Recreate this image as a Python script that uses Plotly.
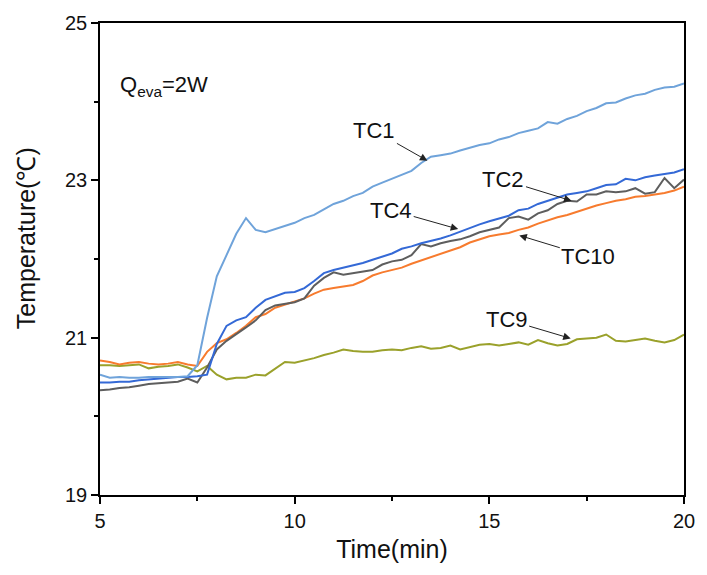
import plotly.graph_objects as go

time_min = [5.0 + 0.25 * i for i in range(61)]

tc1 = [20.53, 20.49, 20.50, 20.49, 20.49, 20.50, 20.50, 20.50, 20.50, 20.51,
       20.65, 21.25, 21.78, 22.05, 22.32, 22.52, 22.37, 22.34, 22.38, 22.42,
       22.46, 22.52, 22.56, 22.63, 22.70, 22.74, 22.80, 22.84, 22.92, 22.97,
       23.02, 23.08, 23.12, 23.22, 23.30, 23.32, 23.34, 23.38, 23.42, 23.45,
       23.47, 23.52, 23.55, 23.60, 23.63, 23.66, 23.74, 23.72, 23.78, 23.82,
       23.88, 23.92, 23.98, 23.99, 24.04, 24.08, 24.10, 24.15, 24.18, 24.19,
       24.23]

tc4 = [20.43, 20.43, 20.44, 20.44, 20.46, 20.47, 20.48, 20.49, 20.50, 20.50,
       20.51, 20.53, 20.92, 21.15, 21.22, 21.26, 21.38, 21.48, 21.53, 21.57,
       21.58, 21.63, 21.72, 21.82, 21.86, 21.89, 21.92, 21.95, 21.99, 22.03,
       22.07, 22.13, 22.16, 22.20, 22.23, 22.26, 22.30, 22.35, 22.40, 22.44,
       22.48, 22.52, 22.55, 22.62, 22.64, 22.70, 22.74, 22.78, 22.82, 22.84,
       22.86, 22.90, 22.94, 22.95, 23.02, 23.00, 23.04, 23.06, 23.08, 23.10,
       23.14]

tc2 = [20.33, 20.34, 20.36, 20.37, 20.39, 20.41, 20.42, 20.43, 20.44, 20.48,
       20.43, 20.62, 20.85, 20.96, 21.04, 21.13, 21.22, 21.35, 21.41, 21.43,
       21.45, 21.50, 21.66, 21.76, 21.83, 21.80, 21.82, 21.84, 21.86, 21.93,
       21.97, 21.99, 22.05, 22.19, 22.16, 22.20, 22.23, 22.25, 22.29, 22.34,
       22.37, 22.40, 22.52, 22.54, 22.50, 22.58, 22.62, 22.70, 22.74, 22.73,
       22.82, 22.82, 22.86, 22.85, 22.86, 22.90, 22.83, 22.85, 23.03, 22.90,
       23.01]

tc10 = [20.71, 20.69, 20.66, 20.68, 20.69, 20.67, 20.66, 20.67, 20.69, 20.66,
        20.64, 20.82, 20.93, 20.98, 21.06, 21.15, 21.26, 21.30, 21.38, 21.42,
        21.46, 21.50, 21.56, 21.61, 21.63, 21.65, 21.67, 21.72, 21.79, 21.83,
        21.86, 21.89, 21.94, 21.98, 22.02, 22.06, 22.10, 22.15, 22.21, 22.25,
        22.29, 22.31, 22.33, 22.37, 22.40, 22.45, 22.49, 22.53, 22.56, 22.60,
        22.64, 22.68, 22.71, 22.74, 22.76, 22.79, 22.80, 22.82, 22.84, 22.87,
        22.92]

tc9 = [20.65, 20.65, 20.64, 20.65, 20.66, 20.61, 20.63, 20.64, 20.66, 20.62,
       20.57, 20.64, 20.53, 20.47, 20.49, 20.49, 20.53, 20.52, 20.60, 20.69,
       20.68, 20.71, 20.74, 20.78, 20.81, 20.85, 20.83, 20.82, 20.82, 20.84,
       20.85, 20.84, 20.87, 20.89, 20.86, 20.87, 20.90, 20.85, 20.88, 20.91,
       20.92, 20.90, 20.92, 20.94, 20.91, 20.97, 20.93, 20.90, 20.92, 20.98,
       20.99, 21.00, 21.04, 20.96, 20.95, 20.97, 20.99, 20.96, 20.94, 20.97,
       21.04]

series_names = ["TC9", "TC10", "TC2", "TC4", "TC1"]
series_values = [tc9, tc10, tc2, tc4, tc1]
series_colors = ["#9AA12B", "#F77B2E", "#5E5E5E", "#3469D6", "#6FA3DA"]

x_ticks = [5, 10, 15, 20]
y_ticks = [19, 21, 23, 25]

# label: arrow head (x, y) in data units, text centre offset from head in px
labels = {
    "TC1": (13.41, 23.25, -53, -30),
    "TC2": (17.11, 22.74, -68, -21),
    "TC4": (14.20, 22.38, -67, -19),
    "TC10": (15.77, 22.30, 69, 21),
    "TC9": (17.09, 20.99, -64, -19),
}

font_family = "Liberation Sans, Arial, sans-serif"

fig = go.Figure()
for name, vals, col in zip(series_names, series_values, series_colors):
    fig.add_trace(go.Scatter(x=time_min, y=vals, mode="lines", name=name,
                             line=dict(color=col, width=2)))

for name, (hx, hy, axo, ayo) in labels.items():
    fig.add_annotation(x=hx, y=hy, xref="x", yref="y", text=name, showarrow=True,
                       ax=axo, ay=ayo, arrowhead=2, arrowsize=1.5, arrowwidth=1,
                       arrowcolor="#222222", standoff=0, startstandoff=0,
                       font=dict(size=22, color="#111111", family=font_family))

fig.add_annotation(x=5.45, y=24.2, xref="x", yref="y", xanchor="left",
                   text="Q<sub>eva</sub>=2W", showarrow=False,
                   font=dict(size=22, color="#111111", family=font_family))

fig.add_annotation(x=-0.155, y=0.545, xref="paper", yref="paper",
                   text="Temperature(℃)", textangle=-90, showarrow=False,
                   font=dict(size=25, color="#111111", family=font_family))

axis_common = dict(showline=True, linecolor="black", linewidth=1.5, mirror=True,
                   ticks="outside", ticklen=7, tickwidth=1.5, tickcolor="black",
                   showgrid=False, zeroline=False,
                   tickfont=dict(size=20, color="#111111", family=font_family))

fig.update_xaxes(range=[5, 20], tickvals=x_ticks, ticktext=[str(v) for v in x_ticks],
                 minor=dict(ticks="outside", ticklen=4, tickwidth=1.5, tickcolor="black",
                            dtick=2.5, tick0=5, showgrid=False),
                 title=dict(text="Time(min)", standoff=10,
                            font=dict(size=25, color="#111111", family=font_family)),
                 **axis_common)
fig.update_yaxes(range=[19, 25], tickvals=y_ticks, ticktext=[str(v) for v in y_ticks],
                 minor=dict(ticks="outside", ticklen=4, tickwidth=1.5, tickcolor="black",
                            dtick=1, tick0=19, showgrid=False),
                 **axis_common)

fig.update_layout(width=707, height=575, margin=dict(l=100, r=15, t=18, b=80),
                  plot_bgcolor="white", paper_bgcolor="white", showlegend=False)

fig.write_html("out.html")
